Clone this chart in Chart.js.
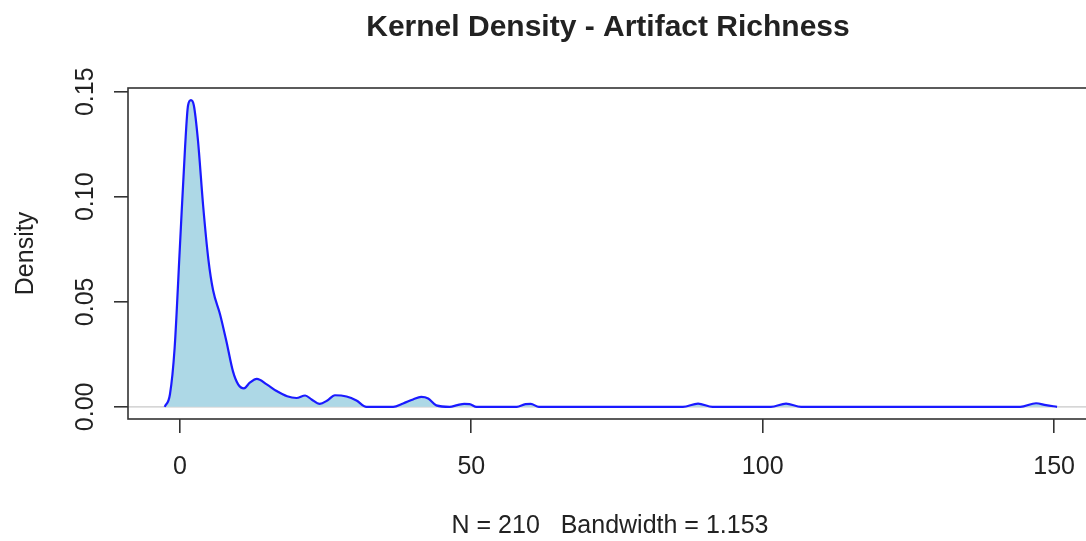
<!DOCTYPE html>
<html>
<head>
<meta charset="utf-8">
<title>Kernel Density - Artifact Richness</title>
<script src="https://cdn.jsdelivr.net/npm/chart.js@4.4.1/dist/chart.umd.min.js"></script>
<style>
  html, body { margin: 0; padding: 0; background: #fff; overflow: hidden; }
  #densityChart { display: block; }
</style>
</head>
<body>
<canvas id="densityChart" width="1100" height="541"></canvas>
<script>
// Density estimate of artifact richness (x = richness, y = density)
const richness = [
  -2.6, -1.7, -0.9, 0, 0.9, 1.4, 1.9, 2.4, 3.1, 4.0, 4.9, 5.7, 6.9, 8.0, 9.1,
  10.0, 11.0, 12.0, 13.2, 14.9, 16.6, 18.4, 20.0, 21.5, 22.6, 24.0, 25.3, 26.6,
  28.6, 30.3, 32.0, 36.6, 38.3, 40.0, 41.4, 42.6, 44.0, 46.3, 47.6, 48.8, 49.7,
  50.9, 57.8, 59.3, 60.2, 61.6, 86.3, 88.9, 91.4, 101.4, 104.0, 106.6, 144.2,
  146.9, 148.6, 150.5
];
const density = [
  0, 0.006, 0.028, 0.076, 0.124, 0.1435, 0.146, 0.1435, 0.127, 0.0955, 0.070, 0.0555, 0.044, 0.031, 0.017,
  0.0107, 0.0088, 0.0115, 0.0133, 0.0107, 0.0075, 0.005, 0.0042, 0.0054, 0.0035, 0.0014, 0.003, 0.0055,
  0.0049, 0.003, 0, 0, 0.0016, 0.0035, 0.0047, 0.004, 0.0007, 0, 0.0008, 0.0014, 0.0013,
  0, 0, 0.0013, 0.0014, 0, 0, 0.0015, 0,  0, 0.0015, 0, 0,
  0.0017, 0.0008, 0
];

const xTicks = [0, 50, 100, 150];
const yTicks = [0, 0.05, 0.10, 0.15];
const yTickLabels = ['0.00', '0.05', '0.10', '0.15'];

const chartTitle = 'Kernel Density - Artifact Richness';
const subTitle = 'N = 210   Bandwidth = 1.153';
const yAxisTitle = 'Density';

const FONT = '"Liberation Sans", Arial, Helvetica, sans-serif';
const INK = '#222';
const AXIS_INK = '#333';

const points = richness.map((x, i) => ({ x: x, y: density[i] }));

// Box, titles, rotated y labels and the grey zero line
const decorations = {
  id: 'decorations',
  beforeDatasetsDraw(chart) {
    const { ctx, chartArea, scales } = chart;
    const y0 = scales.y.getPixelForValue(0);
    ctx.save();
    ctx.strokeStyle = '#c8c8c8';
    ctx.lineWidth = 1.2;
    ctx.beginPath();
    ctx.moveTo(chartArea.left, y0);
    ctx.lineTo(chartArea.right, y0);
    ctx.stroke();
    ctx.restore();
  },
  afterDraw(chart) {
    const { ctx, chartArea, scales } = chart;
    ctx.save();

    // plot frame
    ctx.strokeStyle = AXIS_INK;
    ctx.lineWidth = 1.6;
    ctx.strokeRect(chartArea.left, chartArea.top,
      chartArea.right - chartArea.left, chartArea.bottom - chartArea.top);

    ctx.fillStyle = INK;

    // main title
    ctx.font = 'bold 30px ' + FONT;
    ctx.textAlign = 'center';
    ctx.textBaseline = 'alphabetic';
    ctx.fillText(chartTitle, 608, 36);

    // sub title under the x axis
    ctx.font = '25px ' + FONT;
    ctx.fillText(subTitle, 610, 533);

    // x tick labels
    xTicks.forEach(v => {
      ctx.fillText(String(v), scales.x.getPixelForValue(v), 474);
    });

    // y tick labels, turned to read upwards
    yTicks.forEach((v, i) => {
      ctx.save();
      ctx.translate(93, scales.y.getPixelForValue(v));
      ctx.rotate(-Math.PI / 2);
      ctx.fillText(yTickLabels[i], 0, 0);
      ctx.restore();
    });

    // y axis title
    ctx.save();
    ctx.translate(33, (chartArea.top + chartArea.bottom) / 2);
    ctx.rotate(-Math.PI / 2);
    ctx.fillText(yAxisTitle, 0, 0);
    ctx.restore();

    ctx.restore();
  }
};

const ctx = document.getElementById('densityChart').getContext('2d');
new Chart(ctx, {
  type: 'scatter',
  data: {
    datasets: [{
      label: yAxisTitle,
      data: points,
      showLine: true,
      fill: 'origin',
      backgroundColor: '#add8e6',
      borderColor: '#1a1aff',
      borderWidth: 2.2,
      pointRadius: 0,
      cubicInterpolationMode: 'monotone'
    }]
  },
  options: {
    responsive: false,
    animation: false,
    devicePixelRatio: 1,
    layout: { padding: { left: 0, top: 88, right: 8, bottom: 0 } },
    plugins: {
      legend: { display: false },
      tooltip: { enabled: false },
      title: { display: false }
    },
    scales: {
      x: {
        type: 'linear',
        min: -8.9,
        max: 156.5,
        afterBuildTicks: scale => { scale.ticks = xTicks.map(v => ({ value: v })); },
        afterFit: scale => { scale.height = 122; },
        ticks: { display: false },
        border: { display: false },
        grid: {
          drawOnChartArea: false,
          drawTicks: true,
          tickLength: 14,
          color: AXIS_INK,
          lineWidth: 1.6
        }
      },
      y: {
        type: 'linear',
        min: -0.0058,
        max: 0.1518,
        afterBuildTicks: scale => { scale.ticks = yTicks.map(v => ({ value: v })); },
        afterFit: scale => { scale.width = 128; },
        ticks: { display: false },
        border: { display: false },
        grid: {
          drawOnChartArea: false,
          drawTicks: true,
          tickLength: 14,
          color: AXIS_INK,
          lineWidth: 1.6
        }
      }
    }
  },
  plugins: [decorations]
});
</script>
</body>
</html>
